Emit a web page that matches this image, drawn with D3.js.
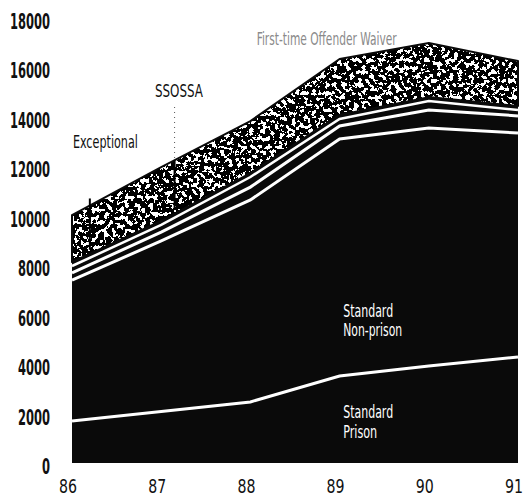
<!DOCTYPE html>
<html>
<head>
<meta charset="utf-8">
<script src="https://cdn.jsdelivr.net/npm/d3@7"></script>
<style>
  body { margin: 0; background: #fff; }
  svg { display: block; }
  text { font-family: "Liberation Sans Narrow", "DejaVu Sans Condensed", sans-serif; }
</style>
</head>
<body>
<div id="chart"></div>
<script>
// fiscal years on the x axis
const years = [86, 87, 88, 89, 90, 91];

// case counts per sentence type (stacked bottom to top)
const prison      = [1700, 2080, 2470, 3520, 3920, 4290];
const nonPrison   = [5700, 6900, 8170, 9590, 9630, 9060];
const exceptional = [290, 360, 520, 520, 730, 690];
const ssossa      = [440, 450, 570, 450, 520, 400];
const firstTime   = [1900, 2180, 2100, 2260, 2190, 1820];

const yTicks = [0, 2000, 4000, 6000, 8000, 10000, 12000, 14000, 16000, 18000];

// labels: text, year / value where the text starts, drawn width
const areaLabels = [
  { text: 'Standard', year: 89.04, value: 5900, w: 50, fill: '#fff' },
  { text: 'Non-prison', year: 89.04, value: 5140, w: 59, fill: '#fff' },
  { text: 'Standard', year: 89.04, value: 1820, w: 50, fill: '#fff' },
  { text: 'Prison', year: 89.04, value: 1010, w: 34, fill: '#fff' },
  { text: 'Exceptional', year: 86.01, value: 12740, w: 65, fill: '#111' },
  { text: 'SSOSSA', year: 86.93, value: 14800, w: 48, fill: '#111' },
  { text: 'First-time Offender Waiver', year: 88.07, value: 16910, w: 140, fill: '#8a8a8a' }
];

// leader lines from labels into the thin bands
const leaders = [
  { year: 86.2, from: 10700, dotted: false },
  { year: 87.15, from: 14400, dotted: true }
];

function sentencePlot() {
  const width = 527;
  const height = 500;

  const keys = ['prison', 'nonPrison', 'exceptional', 'ssossa', 'firstTime'];
  const data = years.map((yr, i) => ({
    year: yr,
    prison: prison[i],
    nonPrison: nonPrison[i],
    exceptional: exceptional[i],
    ssossa: ssossa[i],
    firstTime: firstTime[i]
  }));

  const series = d3.stack().keys(keys)(data);

  const x = d3.scaleLinear().domain([86, 91]).range([72, 518]);
  const y = d3.scaleLinear().domain([0, 18000]).range([463, 18]);

  const svg = d3.select('#chart')
    .append('svg')
    .attr('width', width)
    .attr('height', height)
    .style('background', '#fff');

  // speckled texture for the waiver band
  const defs = svg.append('defs');
  const filt = defs.append('filter').attr('id', 'mottle')
    .attr('x', '-5%').attr('y', '-5%').attr('width', '110%').attr('height', '110%');
  filt.append('feTurbulence')
    .attr('type', 'fractalNoise')
    .attr('baseFrequency', 0.24)
    .attr('numOctaves', 3)
    .attr('seed', 7)
    .attr('result', 'noise');
  filt.append('feColorMatrix')
    .attr('in', 'noise')
    .attr('type', 'matrix')
    .attr('values', '0 0 0 0 0  0 0 0 0 0  0 0 0 0 0  1.6 0 0 0 -0.22')
    .attr('result', 'a');
  filt.append('feComponentTransfer')
    .attr('in', 'a')
    .attr('result', 't')
    .append('feFuncA')
    .attr('type', 'discrete')
    .attr('tableValues', '0 0 0 0 0 1 1 1 1 1');
  filt.append('feComposite')
    .attr('in', 't')
    .attr('in2', 'SourceGraphic')
    .attr('operator', 'in');

  const area = d3.area()
    .x(d => x(d.data.year))
    .y0(d => y(d[0]))
    .y1(d => y(d[1]));

  const topLine = d3.line()
    .x(d => x(d.data.year))
    .y(d => y(d[1]));

  // solid black bands
  svg.selectAll('path.band')
    .data(series.slice(0, 4))
    .enter()
    .append('path')
    .attr('class', 'band')
    .attr('d', area)
    .attr('fill', '#0a0a0a');

  // waiver band: white base + speckle + outline
  const ftow = series[4];
  svg.append('path').attr('d', area(ftow)).attr('fill', '#fff');
  svg.append('path').attr('d', area(ftow)).attr('fill', '#000').attr('filter', 'url(#mottle)');
  svg.append('path').attr('d', area(ftow))
    .attr('fill', 'none')
    .attr('stroke', '#0a0a0a')
    .attr('stroke-width', 2)
    .attr('stroke-linejoin', 'round');

  // white separators
  svg.selectAll('path.sep')
    .data(series.slice(0, 3))
    .enter()
    .append('path')
    .attr('class', 'sep')
    .attr('d', topLine)
    .attr('fill', 'none')
    .attr('stroke', '#fff')
    .attr('stroke-width', 3);

  svg.append('path')
    .attr('d', topLine(series[3]))
    .attr('transform', 'translate(0,4)')
    .attr('fill', 'none')
    .attr('stroke', '#fff')
    .attr('stroke-width', 2.5);

  // leader lines
  const interp = (s, yr, side) => {
    const i = Math.min(Math.floor(yr - 86), years.length - 2);
    const t = yr - years[i];
    return s[i][side] + t * (s[i + 1][side] - s[i][side]);
  };
  leaders.forEach(l => {
    const top = interp(ftow, l.year, 1);
    const bottom = interp(ftow, l.year, 0);
    if (l.dotted) {
      svg.append('line')
        .attr('x1', x(l.year)).attr('x2', x(l.year))
        .attr('y1', y(l.from)).attr('y2', y(top))
        .attr('stroke', '#555')
        .attr('stroke-width', 1)
        .attr('stroke-dasharray', '1,4');
    }
    svg.append('line')
      .attr('x1', x(l.year)).attr('x2', x(l.year))
      .attr('y1', l.dotted ? y(top) : y(l.from)).attr('y2', y(bottom) - 4)
      .attr('stroke', '#000')
      .attr('stroke-width', 2);
  });

  // y tick labels
  svg.selectAll('text.ytick')
    .data(yTicks)
    .enter()
    .append('text')
    .attr('class', 'ytick')
    .attr('x', 50)
    .attr('y', d => y(d) + 11)
    .attr('text-anchor', 'end')
    .attr('font-size', 21)
    .attr('font-weight', 'bold')
    .attr('fill', '#111')
    .attr('textLength', d => String(d).length * 8)
    .attr('lengthAdjust', 'spacingAndGlyphs')
    .text(d => d);

  // x tick labels
  svg.selectAll('text.xtick')
    .data(years)
    .enter()
    .append('text')
    .attr('class', 'xtick')
    .attr('x', d => x(d) + 5)
    .attr('y', 493)
    .attr('text-anchor', 'end')
    .attr('font-size', 20)
    .attr('fill', '#111')
    .attr('textLength', 18)
    .attr('lengthAdjust', 'spacingAndGlyphs')
    .text(d => d);

  // band labels
  svg.selectAll('text.lab')
    .data(areaLabels)
    .enter()
    .append('text')
    .attr('class', 'lab')
    .attr('x', d => x(d.year))
    .attr('y', d => y(d.value))
    .attr('font-size', 17)
    .attr('fill', d => d.fill)
    .attr('textLength', d => d.w)
    .attr('lengthAdjust', 'spacingAndGlyphs')
    .text(d => d.text);
}

window.onload = function () {
  sentencePlot();
};
</script>
</body>
</html>
